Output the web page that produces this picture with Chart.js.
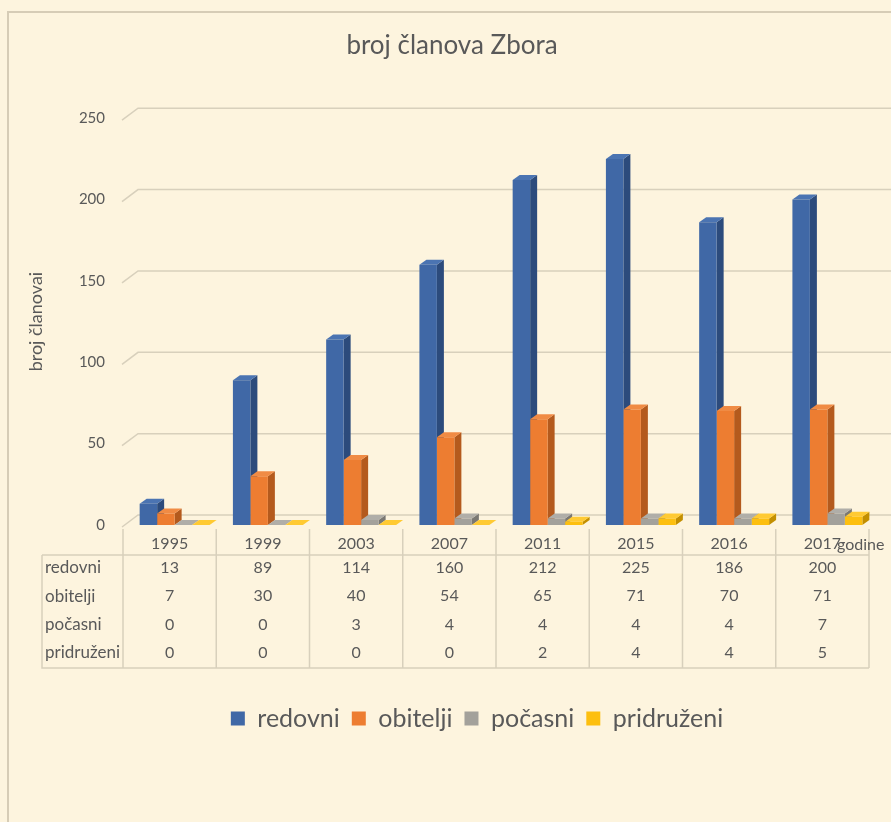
<!DOCTYPE html>
<html>
<head>
<meta charset="utf-8">
<title>broj članova Zbora</title>
<script src="https://cdn.jsdelivr.net/npm/chart.js@4.4.0/dist/chart.umd.min.js"></script>
<style>
  html, body { margin: 0; padding: 0; background: #fdf4de; }
  canvas { display: block; }
</style>
</head>
<body>
<canvas id="graf" width="891" height="822"></canvas>
<script>
// podaci s grafikona
const godine     = ['1995', '1999', '2003', '2007', '2011', '2015', '2016', '2017'];
const redovni    = [13, 89, 114, 160, 212, 225, 186, 200];
const obitelji   = [7, 30, 40, 54, 65, 71, 70, 71];
const pocasni    = [0, 0, 3, 4, 4, 4, 4, 7];
const pridruzeni = [0, 0, 0, 0, 2, 4, 4, 5];
const nazivi     = ['redovni', 'obitelji', 'počasni', 'pridruženi'];

// boje: prednja strana, bok, vrh
const boje = [
  { front: '#4068a6', side: '#2c4b7c', top: '#4b74b2' },
  { front: '#ed7d31', side: '#b45a1d', top: '#f08b44' },
  { front: '#a3a19b', side: '#7a7873', top: '#b0aea8' },
  { front: '#fdbf0f', side: '#c38f00', top: '#ffca33' }
];

const FONT = 'Lato, "Noto Sans", sans-serif';
const TEXT = '#595959';
const LINE = '#d8d0bc';
const DX = 7, DY = -5;     // dubina 3D stupca
const POMAK = 5;           // tablica je malo lijevo od stupaca

// pozadina i okvir
const pozadina = {
  id: 'pozadina',
  beforeDraw(chart) {
    const ctx = chart.ctx;
    ctx.save();
    ctx.fillStyle = '#fdf4de';
    ctx.fillRect(0, 0, chart.width, chart.height);
    ctx.strokeStyle = '#d6ccb6';
    ctx.lineWidth = 2;
    ctx.strokeRect(8, 12, chart.width + 20, chart.height + 20);
    ctx.restore();
  },
  afterLayout(chart) {
    // legenda i naslov su u originalu pomaknuti udesno
    chart.legend.left += 40;
    chart.legend.right += 40;
    chart.titleBlock.left += 15;
    chart.titleBlock.right += 15;
  }
};

// mreža s kosim početkom + bokovi i vrhovi stupaca
const treciD = {
  id: 'treciD',
  beforeDatasetsDraw(chart) {
    const ctx = chart.ctx, y = chart.scales.y, area = chart.chartArea;
    ctx.save();
    ctx.strokeStyle = LINE;
    ctx.lineWidth = 1.5;
    y.ticks.forEach(t => {
      const py = y.getPixelForValue(t.value);
      ctx.beginPath();
      ctx.moveTo(area.left - 6, py + 2);
      ctx.lineTo(area.left + 10, py - 10);
      ctx.lineTo(chart.width, py - 10);
      ctx.stroke();
    });

    chart.data.datasets.forEach((ds, d) => {
      const meta = chart.getDatasetMeta(d);
      meta.data.forEach(bar => {
        const { x, y: top, base, width } = bar.getProps(['x', 'y', 'base', 'width'], true);
        const l = x - width / 2, r = x + width / 2;
        ctx.fillStyle = boje[d].side;
        ctx.beginPath();
        ctx.moveTo(r, top);
        ctx.lineTo(r + DX, top + DY);
        ctx.lineTo(r + DX, base + DY);
        ctx.lineTo(r, base);
        ctx.closePath();
        ctx.fill();
        ctx.fillStyle = boje[d].top;
        ctx.beginPath();
        ctx.moveTo(l, top);
        ctx.lineTo(r, top);
        ctx.lineTo(r + DX, top + DY);
        ctx.lineTo(l + DX, top + DY);
        ctx.closePath();
        ctx.fill();
      });
    });
    ctx.restore();
  }
};

// tablica podataka ispod osi
const tablica = {
  id: 'tablica',
  afterDraw(chart) {
    const ctx = chart.ctx, x = chart.scales.x, area = chart.chartArea;
    const sirina = x.getPixelForValue(1) - x.getPixelForValue(0);
    const lijevo = x.getPixelForValue(0) - sirina / 2 - POMAK;
    const desno = lijevo + sirina * godine.length;
    const vrh = area.bottom + 4, crtaZaglavlja = area.bottom + 30, dno = area.bottom + 143;
    const red = 28.3;
    const redovi = [redovni, obitelji, pocasni, pridruzeni];

    ctx.save();
    ctx.strokeStyle = LINE;
    ctx.lineWidth = 1.5;
    ctx.beginPath();
    for (let i = 0; i <= godine.length; i++) {
      const px = lijevo + i * sirina;
      ctx.moveTo(px, vrh);
      ctx.lineTo(px, dno);
    }
    ctx.moveTo(42, crtaZaglavlja);
    ctx.lineTo(desno, crtaZaglavlja);
    ctx.moveTo(42, crtaZaglavlja);
    ctx.lineTo(42, dno);
    ctx.lineTo(desno, dno);
    ctx.stroke();

    ctx.fillStyle = TEXT;
    ctx.textBaseline = 'middle';
    ctx.textAlign = 'center';
    ctx.font = '16px ' + FONT;
    godine.forEach((g, i) => ctx.fillText(g, x.getPixelForValue(i) - POMAK, area.bottom + 19));
    redovi.forEach((niz, r) => {
      const py = crtaZaglavlja + 13 + r * red;
      ctx.textAlign = 'left';
      ctx.font = '17px ' + FONT;
      ctx.fillText(nazivi[r], 45, py);
      ctx.textAlign = 'center';
      ctx.font = '16px ' + FONT;
      niz.forEach((v, i) => ctx.fillText(String(v), x.getPixelForValue(i) - POMAK, py));
    });
    ctx.textAlign = 'left';
    ctx.fillText('godine', 837, area.bottom + 20);
    ctx.restore();
  }
};

new Chart(document.getElementById('graf'), {
  type: 'bar',
  data: {
    labels: godine,
    datasets: [redovni, obitelji, pocasni, pridruzeni].map((niz, d) => ({
      label: nazivi[d],
      data: niz,
      backgroundColor: boje[d].front,
      borderWidth: 0,
      categoryPercentage: 0.75,
      barPercentage: 1
    }))
  },
  options: {
    responsive: false,
    animation: false,
    devicePixelRatio: 1,
    layout: { padding: { left: 0, right: 17, top: 0, bottom: 81 } },
    plugins: {
      tooltip: { enabled: false },
      title: {
        display: true,
        text: 'broj članova Zbora',
        color: TEXT,
        font: { family: FONT, size: 26, weight: 'normal' },
        padding: { top: 30, bottom: 57 }
      },
      legend: {
        position: 'bottom',
        labels: {
          color: TEXT,
          font: { family: FONT, size: 25 },
          boxWidth: 14,
          boxHeight: 14,
          padding: 12
        }
      }
    },
    scales: {
      x: {
        grid: { display: false },
        border: { display: false },
        ticks: { display: false },
        afterFit(s) { s.height = 169; }
      },
      y: {
        min: 0,
        max: 250,
        grid: { display: false, drawTicks: false },
        border: { display: false },
        ticks: { stepSize: 50, padding: 23, color: TEXT, font: { family: FONT, size: 15 } },
        title: {
          display: true,
          text: 'broj članovai',
          color: TEXT,
          font: { family: FONT, size: 18 },
          padding: { top: 25, bottom: 0 }
        },
        afterFit(s) { s.width = 128; }
      }
    }
  },
  plugins: [pozadina, treciD, tablica]
});
</script>
</body>
</html>
